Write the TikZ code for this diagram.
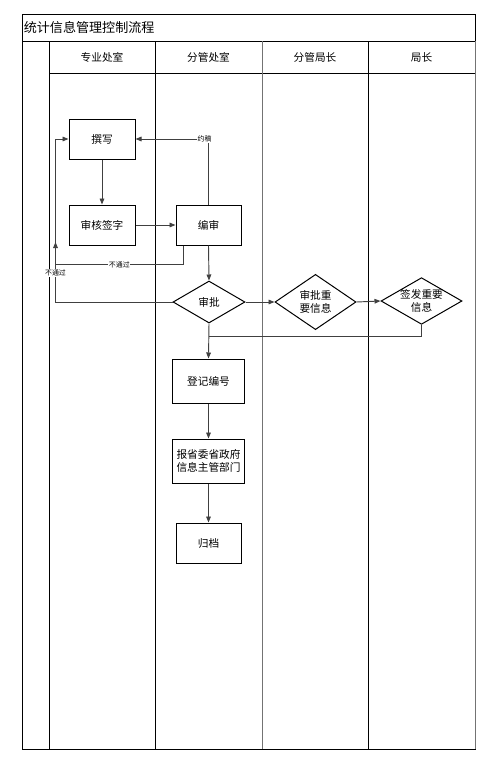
\documentclass[tikz,border=0pt]{standalone}
\usepackage{fontspec}
\setmainfont{Noto Sans CJK SC}
\usetikzlibrary{shapes.geometric,arrows.meta}

\begin{document}
\begin{tikzpicture}[x=0.75pt,y=-0.75pt,line width=0.75pt]
        %
        % `process' is used for the boxes, `decision' for the diamonds.
        % `flow' is used for the connectors, `tag' for their small labels.
        \tikzstyle{process} = [draw,fill=white,minimum width=49.5pt,minimum height=30pt,inner sep=1pt,font=\fontsize{8}{10}\selectfont,align=center]
        \tikzstyle{decision} = [draw,fill=white,shape=diamond,inner sep=0pt,font=\fontsize{8}{10}\selectfont,align=center]
        \tikzstyle{flow} = [draw=black!75,line width=0.7pt,-{Triangle[length=4.5pt,width=3.5pt]}]
        \tikzstyle{tag} = [fill=white,inner sep=0.5pt,font=\fontsize{5.2}{6}\selectfont]
        \tikzstyle{lane} = [font=\fontsize{8}{10}\selectfont]
        %
        \useasboundingbox (0,0) rectangle (498,768);
        %
        % Table
        \draw (22,14) rectangle (475,41);
        \node[anchor=west,inner sep=1pt,font=\fontsize{9.8}{12}\selectfont] (title) at (22,27.5) {统计信息管理控制流程};
        \draw (22,41) rectangle (475,749);
        \draw (49,73) -- (475,73);
        \draw (49,41) -- (49,749);
        \draw (155.5,41) -- (155.5,749);
        \draw[black!55] (262,41) -- (262,749);
        \draw (368.5,41) -- (368.5,749);
        \draw[black!55] (475,41) -- (475,749);
        %
        % Lane headers
        \node[lane] (lane1) at (102,57) {专业处室};
        \node[lane] (lane2) at (208.5,57) {分管处室};
        \node[lane] (lane3) at (315,57) {分管局长};
        \node[lane] (lane4) at (421.5,57) {局长};
        %
        % Column 1
        \node[process] (zhuanxie) at (102,139) {撰写};
        \node[process] (shenhe) at (102,225) {审核签字};
        %
        % Column 2
        \node[process,minimum width=48.75pt] (bianshen) at (208.5,225) {编审};
        \node[decision,minimum width=54pt,minimum height=31.5pt] (shenpi) at (209,302) {审批};
        \node[process,minimum width=54pt,minimum height=33pt] (dengji) at (208.5,381) {登记编号};
        \node[process,minimum width=54pt,minimum height=33pt] (baosong) at (208.5,461) {报省委省政府\\信息主管部门};
        \node[process,minimum width=48.75pt] (guidang) at (208.5,543) {归档};
        %
        % Column 3 and 4
        \node[decision,minimum width=60.75pt,minimum height=36pt] (fenguan) at (315.5,302) {审批重\\要信息};
        \node[decision,inner sep=-4pt,minimum width=60.75pt,minimum height=35pt] (qianfa) at (421.5,301) {签发重要\\信息};
        %
        % Free ends of the connectors
        \coordinate (loopL) at (55.5,302);
        \coordinate (backup) at (55.5,242);
        \coordinate (joinpt) at (209,336);
        %
        % Connectors
        \draw[flow] (zhuanxie) -- (shenhe);
        \draw[flow] (shenhe) -- (bianshen);
        \draw[flow] (bianshen.north) |- node[tag,pos=0.5,xshift=-3pt] (yuegao) {约稿} (zhuanxie.east);
        \draw[flow] ([xshift=-19pt]bianshen.south) -- ++(0,19) -| node[tag,pos=0.25] (fail1) {不通过} (backup);
        \draw[flow] (bianshen.south) -- (shenpi.north);
        \draw[flow] (shenpi.west) -- (loopL) |- node[tag,pos=0.09] (fail2) {不通过} (zhuanxie.west);
        \draw[flow] (shenpi.east) -- (fenguan.west);
        \draw[flow] (fenguan.east) -- (qianfa.west);
        \draw[draw=black!75,line width=0.7pt] (qianfa.south) |- (joinpt);
        \draw[flow] (shenpi.south) -- (dengji.north);
        \draw[flow] (dengji) -- (baosong);
        \draw[flow] (baosong) -- (guidang);
        %
\end{tikzpicture}
\end{document}
